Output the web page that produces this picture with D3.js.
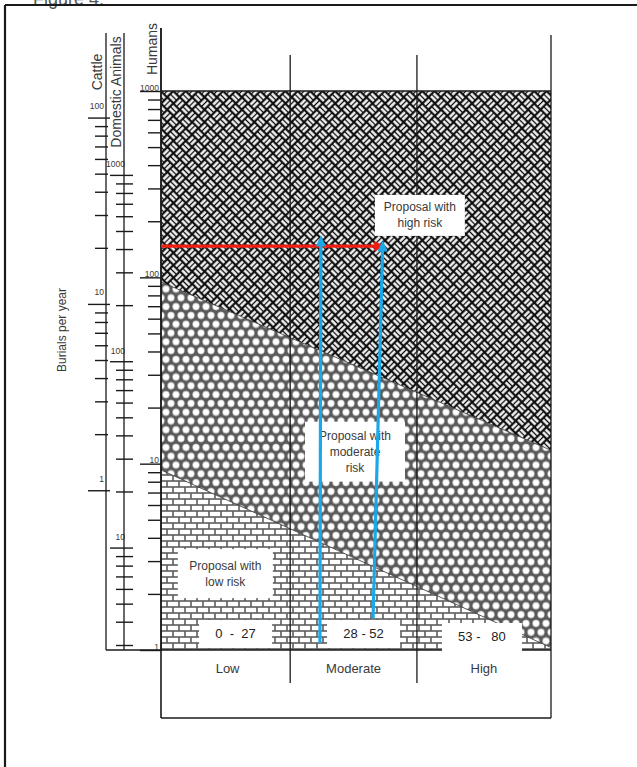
<!DOCTYPE html>
<html>
<head>
	<meta charset="utf-8">
	<title>Burials per year - risk proposal chart</title>
	<style>
		body {
			margin: 0;
			background: #fff;
		}
		svg {
			display: block;
			font-family: 'Liberation Sans', Arial, sans-serif;
		}
	</style>
</head>
<body>
<svg width="637" height="767"></svg>
<script src="https://cdn.jsdelivr.net/npm/d3@7"></script>
<script>

	// risk score columns along the bottom
	let categories = ['Low', 'Moderate', 'High']
	let rangeLabels = ['0  -  27', '28 - 52', '53 -   80']
	let scoreBreaks = [0, 26.5, 52.5, 80]

	// zone boundaries, humans buried per year, at score 0 and score 80
	let highBoundary = [94.5, 11.8]
	let lowBoundary = [9.25, 1.03]

	// the three burial scales (humans is the reference one)
	let humanRange = [1, 1000]
	let domesticTickRange = [3, 1000]
	let cattleTickRange = [1, 100]
	let domesticPerHuman = 2.82
	let humansPerCattle = 7.2

	// proposal labels: [score, humans per year]
	let proposalNames = [['Proposal with', 'high risk'], ['Proposal with', 'moderate', 'risk'], ['Proposal with', 'low risk']]
	let proposalAnchors = [[53.1, 215], [39.8, 11.6], [13.2, 2.57]]

	// arrows: base and tip as [score, humans per year]
	let blueBase = [[32.6, 1.09], [43.5, 1.48]]
	let blueTip = [[32.8, 168], [45.5, 158]]
	let redLevel = 147
	let redEnd = 46.0

	let ink = '#1a1a1a'
	let textInk = '#3a3a3a'

	let svg = d3.select('svg')

	let x = d3.scaleLinear().domain([0, 80]).range([161, 551])
	let y = d3.scaleLog().domain(humanRange).range([650, 91])
	let yDomestic = d3.scaleLog()
		.domain(humanRange.map(d => d * domesticPerHuman))
		.range([650, 91])
	let yCattle = d3.scaleLog()
		.domain(humanRange.map(d => d / humansPerCattle))
		.range([650, 91])

	let defs = svg.append('defs')

	// basket weave for the high risk zone
	let T = 17.6, half = T / 2
	let weave = defs.append('pattern')
		.attr('id', 'weave')
		.attr('patternUnits', 'userSpaceOnUse')
		.attr('width', T)
		.attr('height', T)
		.attr('patternTransform', 'translate(161,91) rotate(45)')
	weave.append('rect').attr('width', T).attr('height', T).attr('fill', '#0d0d0d')
	let cells = [[0, 0, 'h'], [half, half, 'h'], [half, 0, 'v'], [0, half, 'v']]
	cells.forEach(c => {
		[2.5, 6.3].forEach(o => {
			if (c[2] == 'h') {
				weave.append('rect').attr('x', c[0] + 0.9).attr('y', c[1] + o - 1.2)
					.attr('width', half - 1.8).attr('height', 2.4).attr('fill', '#fff')
			} else {
				weave.append('rect').attr('x', c[0] + o - 1.2).attr('y', c[1] + 0.9)
					.attr('width', 2.4).attr('height', half - 1.8).attr('fill', '#fff')
			}
		})
	})

	// honeycomb of circles for the moderate zone
	let comb = defs.append('pattern')
		.attr('id', 'comb')
		.attr('patternUnits', 'userSpaceOnUse')
		.attr('x', 161).attr('y', 91)
		.attr('width', 10)
		.attr('height', 17.6)
	comb.append('rect').attr('width', 10).attr('height', 17.6).attr('fill', '#5a5a5a')
	;[[5, 4.4], [0, 13.2], [10, 13.2]].forEach(p => {
		comb.append('circle').attr('cx', p[0]).attr('cy', p[1]).attr('r', 3.55)
			.attr('fill', '#fff').attr('stroke', '#888').attr('stroke-width', 0.5)
	})

	// bricks for the low zone
	let brick = defs.append('pattern')
		.attr('id', 'brick')
		.attr('patternUnits', 'userSpaceOnUse')
		.attr('x', 161).attr('y', 91)
		.attr('width', 12)
		.attr('height', 12)
	brick.append('rect').attr('width', 12).attr('height', 12).attr('fill', '#5c5c5c')
	;[[0.8, 0.8], [-5.2, 6.8], [6.8, 6.8]].forEach(p => {
		brick.append('rect').attr('x', p[0]).attr('y', p[1]).attr('width', 10.4).attr('height', 4.4).attr('fill', '#fff')
	})

	// zones
	let zone = pts => 'M' + pts.map(p => [x(p[0]), y(p[1])].join(',')).join('L') + 'Z'
	let maxBurials = humanRange[1]
	let minBurials = humanRange[0]

	svg.append('path')
		.attr('d', zone([[0, maxBurials], [80, maxBurials], [80, highBoundary[1]], [0, highBoundary[0]]]))
		.attr('fill', 'url(#weave)')
	svg.append('path')
		.attr('d', zone([[0, highBoundary[0]], [80, highBoundary[1]], [80, lowBoundary[1]], [0, lowBoundary[0]]]))
		.attr('fill', 'url(#comb)')
	svg.append('path')
		.attr('d', zone([[0, lowBoundary[0]], [80, lowBoundary[1]], [80, minBurials], [0, minBurials]]))
		.attr('fill', 'url(#brick)')

	// boundary lines
	;[highBoundary, lowBoundary].forEach(b => {
		svg.append('line')
			.attr('x1', x(0)).attr('y1', y(b[0]))
			.attr('x2', x(80)).attr('y2', y(b[1]))
			.style('stroke', '#333')
			.style('stroke-width', 0.8)
	})

	// frame lines
	let line = (x1, y1, x2, y2, w) => svg.append('line')
		.attr('x1', x1).attr('y1', y1).attr('x2', x2).attr('y2', y2)
		.style('stroke', ink).style('stroke-width', w || 1.3)

	line(x(0), 28, x(0), 718, 1.6)
	line(x(80), 35, x(80), 718, 1.3)
	line(x(scoreBreaks[1]), 55, x(scoreBreaks[1]), 683)
	line(x(scoreBreaks[2]), 55, x(scoreBreaks[2]), 683)
	line(x(0), y(maxBurials), x(80), y(maxBurials), 1.4)
	line(106, y(minBurials), x(80), y(minBurials), 1.3)
	line(x(0), 718, x(80), 718, 1.5)

	// the three vertical scales
	let isMajor = d => Math.abs(Math.log10(d) - Math.round(Math.log10(d))) < 1e-9

	function drawScale(scale, tickRange, axisX, opts) {
		let ticks = d3.scaleLog().domain(tickRange).ticks()
		let g = svg.append('g').attr('transform', `translate(${axisX},0)`)
		g.call(d3.axisLeft(scale)
			.tickValues(ticks)
			.tickSize(0)
			.tickPadding(0)
			.tickFormat(d => isMajor(d) ? d3.format('d')(d) : ''))
		g.attr('font-family', null).attr('font-size', 8.5)
		g.select('.domain').remove()
		g.selectAll('.tick line')
			.attr('x1', d => isMajor(d) ? opts.major[0] : opts.minor[0])
			.attr('x2', d => isMajor(d) ? opts.major[1] : opts.minor[1])
			.attr('stroke', ink)
			.attr('stroke-width', 1.4)
		g.selectAll('.tick text')
			.attr('x', opts.labelX)
			.attr('dy', opts.labelDy)
			.attr('text-anchor', 'end')
			.attr('fill', textInk)
		line(axisX, opts.lineTop, axisX, 650, 1.3)
		svg.append('text')
			.attr('transform', `translate(${axisX - opts.titleGap},${opts.titleY}) rotate(-90)`)
			.attr('text-anchor', 'middle')
			.attr('font-size', 14)
			.attr('fill', textInk)
			.text(opts.title)
	}

	drawScale(y, humanRange, 161, {
		major: [-21, 0], minor: [-13, 0], labelX: -2, labelDy: -1,
		lineTop: 28, title: 'Humans', titleGap: 4, titleY: 49
	})
	drawScale(yDomestic, domesticTickRange, 124, {
		major: [-14, 9], minor: [-8, 9], labelX: 1, labelDy: -8,
		lineTop: 33, title: 'Domestic Animals', titleGap: 3, titleY: 92
	})
	drawScale(yCattle, cattleTickRange, 106, {
		major: [-18, 4], minor: [-11, 2], labelX: -2, labelDy: -9,
		lineTop: 33, title: 'Cattle', titleGap: 4, titleY: 72
	})

	svg.append('text')
		.attr('transform', 'translate(66,330) rotate(-90)')
		.attr('text-anchor', 'middle')
		.attr('font-size', 12)
		.attr('fill', textInk)
		.text('Burials per year')

	// column labels and score ranges
	let colMid = i => (x(scoreBreaks[i]) + x(scoreBreaks[i + 1])) / 2
	let rangeNudge = [10, 10, -2]
	let rangeDrop = [0, 0, 3]

	categories.forEach((c, i) => {
		svg.append('text')
			.attr('x', colMid(i) + (i == 0 ? 2 : 0))
			.attr('y', 673)
			.attr('text-anchor', 'middle')
			.attr('font-size', 13)
			.attr('fill', textInk)
			.text(c)

		let cx = colMid(i) + rangeNudge[i]
		let w = i == 2 ? 80 : 73
		svg.append('rect')
			.attr('x', cx - w / 2).attr('y', 620 + rangeDrop[i])
			.attr('width', w).attr('height', 28)
			.attr('fill', '#fff')
		svg.append('text')
			.attr('x', cx).attr('y', 638 + rangeDrop[i])
			.attr('text-anchor', 'middle')
			.attr('font-size', 13)
			.attr('fill', '#222')
			.style('white-space', 'pre')
			.text(rangeLabels[i])
	})

	// proposal label boxes
	let boxSizes = [[90, 41], [100, 60], [95, 49]]
	proposalNames.forEach((lines, i) => {
		let cx = x(proposalAnchors[i][0])
		let cy = y(proposalAnchors[i][1])
		svg.append('rect')
			.attr('x', cx - boxSizes[i][0] / 2).attr('y', cy - boxSizes[i][1] / 2)
			.attr('width', boxSizes[i][0]).attr('height', boxSizes[i][1])
			.attr('fill', '#fff')
		lines.forEach((t, j) => {
			svg.append('text')
				.attr('x', cx)
				.attr('y', cy + 4 + (j - (lines.length - 1) / 2) * 16)
				.attr('text-anchor', 'middle')
				.attr('font-size', 12)
				.attr('fill', textInk)
				.text(t)
		})
	})

	// arrows
	function arrow(x1, y1, x2, y2, colour) {
		let dx = x2 - x1, dy = y2 - y1
		let len = Math.sqrt(dx * dx + dy * dy)
		let ux = dx / len, uy = dy / len
		let head = 11, hw = 5
		let bx = x2 - ux * head, by = y2 - uy * head
		svg.append('line')
			.attr('x1', x1).attr('y1', y1).attr('x2', bx + ux).attr('y2', by + uy)
			.style('stroke', colour).style('stroke-width', 3.2)
		svg.append('path')
			.attr('d', `M${x2},${y2}L${bx - uy * hw},${by + ux * hw}L${bx + uy * hw},${by - ux * hw}Z`)
			.attr('fill', colour)
	}

	arrow(x(0), y(redLevel), x(redEnd), y(redLevel), '#f01d12')
	blueBase.forEach((b, i) => {
		arrow(x(b[0]), y(b[1]), x(blueTip[i][0]), y(blueTip[i][1]), '#1ba8e8')
	})

	// page frame and the clipped caption above it
	svg.append('text')
		.attr('x', 33).attr('y', 5)
		.attr('font-size', 18)
		.attr('fill', '#555')
		.text('Figure 4:')
	line(5, 5, 637, 5, 2.2)
	line(5, 5, 5, 767, 2.2)

</script>
</body>
</html>
